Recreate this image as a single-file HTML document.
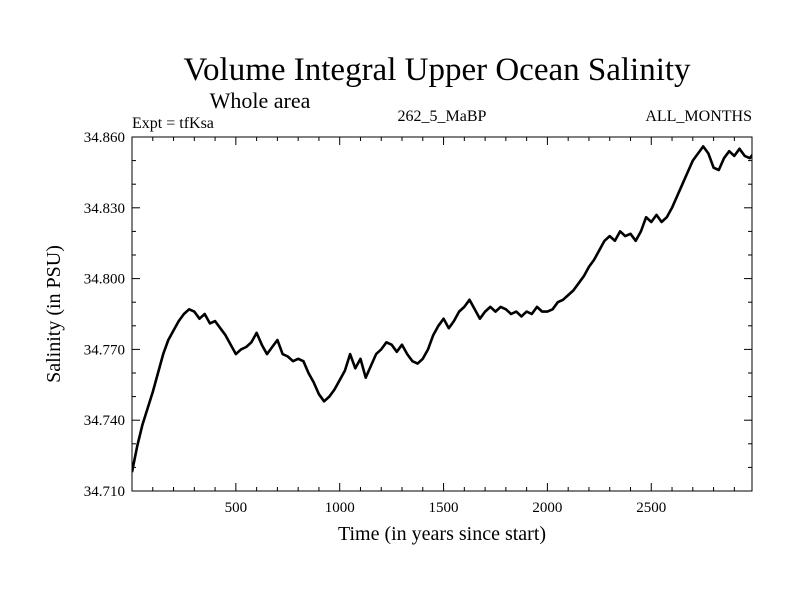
<!DOCTYPE html>
<html><head><meta charset="utf-8"><style>
body{margin:0;background:#fff}
svg text{font-family:"Liberation Serif",serif;fill:#000}
</style></head><body>
<svg id="chart" width="800" height="600" xmlns="http://www.w3.org/2000/svg">
<defs><clipPath id="plotclip"><rect x="132" y="137" width="620" height="354"/></clipPath></defs>
<text x="437" y="80" font-size="33" text-anchor="middle">Volume Integral Upper Ocean Salinity</text>
<text x="260" y="108" font-size="22" text-anchor="middle">Whole area</text>
<text x="132" y="128" font-size="16">Expt = tfKsa</text>
<text x="442" y="121" font-size="16" text-anchor="middle">262_5_MaBP</text>
<text x="752" y="121" font-size="16" text-anchor="end">ALL_MONTHS</text>
<text x="442" y="540" font-size="20" text-anchor="middle">Time (in years since start)</text>
<text transform="translate(60,314) rotate(-90)" font-size="20" text-anchor="middle">Salinity (in PSU)</text>
<g id="axes"></g>
<path id="line" clip-path="url(#plotclip)" fill="none" stroke="#000" stroke-width="2.6" stroke-linejoin="round"/>
<rect x="132" y="137" width="620" height="354" fill="none" stroke="#000" stroke-width="1"/>
</svg>
<script>
const years0 = 0, yearStep = 25;
const salinity = [
34.718,34.729,34.738,34.745,34.752,34.760,34.768,34.774,34.778,34.782,34.785,34.787,34.786,34.783,34.785,34.781,
34.782,34.779,34.776,34.772,34.768,34.770,34.771,34.773,34.777,34.772,34.768,34.771,34.774,34.768,34.767,34.765,
34.766,34.765,34.760,34.756,34.751,34.748,34.750,34.753,34.757,34.761,34.768,34.762,34.766,34.758,34.763,34.768,
34.770,34.773,34.772,34.769,34.772,34.768,34.765,34.764,34.766,34.770,34.776,34.780,34.783,34.779,34.782,34.786,
34.788,34.791,34.787,34.783,34.786,34.788,34.786,34.788,34.787,34.785,34.786,34.784,34.786,34.785,34.788,34.786,
34.786,34.787,34.790,34.791,34.793,34.795,34.798,34.801,34.805,34.808,34.812,34.816,34.818,34.816,34.820,34.818,
34.819,34.816,34.820,34.826,34.824,34.827,34.824,34.826,34.830,34.835,34.840,34.845,34.850,34.853,34.856,34.853,
34.847,34.846,34.851,34.854,34.852,34.855,34.852,34.851,34.854];
const xTicks = [500,1000,1500,2000,2500];
const yTicks = [34.710,34.740,34.770,34.800,34.830,34.860];
const X0=132,X1=752,Y0=491,Y1=137,xMin=0,xMax=2985,yMin=34.710,yMax=34.860;
const sx=v=>X0+(v-xMin)/(xMax-xMin)*(X1-X0);
const sy=v=>Y0-(v-yMin)/(yMax-yMin)*(Y0-Y1);
const NS='http://www.w3.org/2000/svg';
const axes=document.getElementById('axes');
function mk(tag,attrs){const e=document.createElementNS(NS,tag);for(const k in attrs)e.setAttribute(k,attrs[k]);axes.appendChild(e);return e;}
for(let t=100;t<xMax;t+=100){
  const L=(t%500===0)?8:4;const x=sx(t);
  const a=mk('line',{x1:x,x2:x,y1:Y0,y2:Y0-L,stroke:'#000'});
  
  
  const b=mk('line',{x1:x,x2:x,y1:Y1,y2:Y1+L,stroke:'#000'});
  
  
}
xTicks.forEach(t=>{const e=mk('text',{x:sx(t),y:512,'font-size':15,'text-anchor':'middle'});e.textContent=t;
  
  });
for(let i=0;i<=15;i++){
  const v=yMin+i*0.01;const L=(i%3===0)?8:4;const y=sy(v);
  const a=mk('line',{x1:X0,x2:X0+L,y1:y,y2:y,stroke:'#000'});
  
  
  const b=mk('line',{x1:X1,x2:X1-L,y1:y,y2:y,stroke:'#000'});
  
  
}
yTicks.forEach(t=>{const e=mk('text',{x:125,y:sy(t)+5,'font-size':15,'text-anchor':'end'});e.textContent=t.toFixed(3);
  
  });
let d='';
salinity.forEach((v,i)=>{d+=(i?'L':'M')+sx(years0+i*yearStep).toFixed(1)+','+sy(v).toFixed(1);});
document.getElementById('line').setAttribute('d',d);
</script>
</body></html>
